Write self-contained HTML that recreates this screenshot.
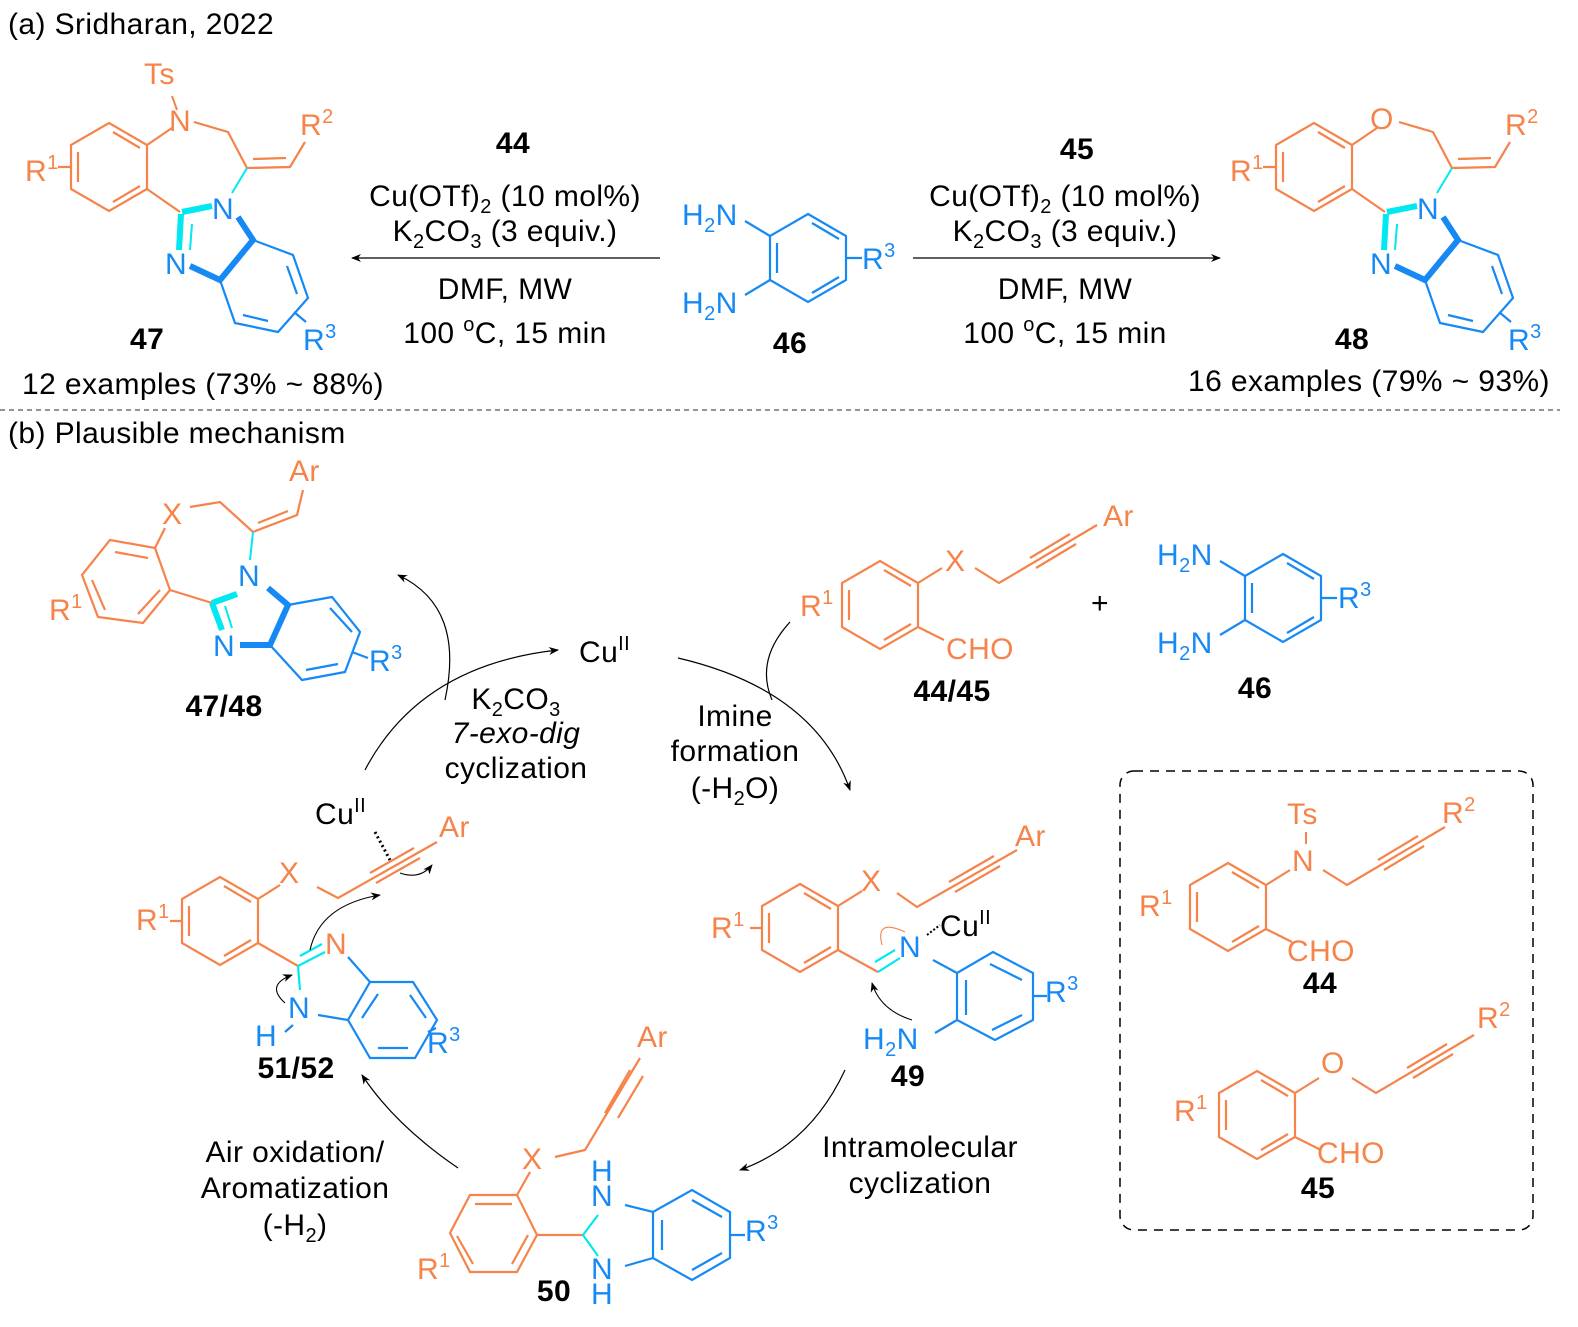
<!DOCTYPE html>
<html><head><meta charset="utf-8"><style>
html,body{margin:0;padding:0;background:#fff}
svg{display:block}
text{font-family:"Liberation Sans",Arial,sans-serif;font-size:30px;letter-spacing:0.4px}
tspan.s{font-size:20px}
.o{fill:#F5834A}.b{fill:#1689F5}.k{fill:#000}.bd{font-weight:bold}
</style></head><body>
<svg width="1578" height="1327" viewBox="0 0 1578 1327" xmlns="http://www.w3.org/2000/svg">
<defs>
<g id="hx" fill="none" stroke-width="2.2">
<path d="M0,-44 L38,-22 L38,22 L0,44 L-38,22 L-38,-22Z"/>
<path d="M4,-35 L31,-19 M31,19 L4,35 M-31,15 L-31,-15"/>
</g>
<marker id="ah" markerWidth="10" markerHeight="8" refX="9" refY="4" orient="auto" markerUnits="userSpaceOnUse"><path d="M0,0 L10,4 L0,8 L3,4Z" fill="#000"/></marker>
<g id="alk">
<use href="#hx" stroke="#F5834A"/>
<path d="M38,-22 L62,-37 M95,-37 L119,-22 L217,-80 M150,-47 L190,-71 M156,-37 L196,-61 M38,22 L64,35" stroke="#F5834A" stroke-width="2.2" fill="none"/>
</g>
<g id="c47">
<use href="#hx" x="109" y="167" stroke="#F5834A"/>
<path d="M147,145 L172,128 M194,122 L228,132 L247,168 L290,167 L305,142 M253,159 L286,158 M147,189 L180,212 M71,167 L58,167" stroke="#F5834A" stroke-width="2.2" fill="none"/>
<path d="M247,168 L232,193" stroke="#00E8F0" stroke-width="2"/>
<path d="M182,212 L212,206" stroke="#00E8F0" stroke-width="6"/>
<path d="M181,214 L179,250" stroke="#00E8F0" stroke-width="6"/>
<path d="M192,224 L190,250" stroke="#00E8F0" stroke-width="2"/>
<path d="M190,266 L220,280 L253,240 L238,217" stroke="#1689F5" stroke-width="6" fill="none"/>
<path d="M253,240 L293,255 L308,298 L278,332 L235,323 L220,280 M287,266 L297,294 M268,321 L243,315 M294,312 L306,322" stroke="#1689F5" stroke-width="2.2" fill="none"/>
<text x="212" y="219" class="b">N</text>
<text x="165" y="274" class="b">N</text>
<text x="25" y="181" class="o">R<tspan class="s" dy="-12">1</tspan></text>
<text x="300" y="135" class="o">R<tspan class="s" dy="-12">2</tspan></text>
<text x="303" y="350" class="b">R<tspan class="s" dy="-12">3</tspan></text>
</g>
</defs>

<text x="8" y="34" class="k">(a) Sridharan, 2022</text>

<use href="#c47"/>
<text x="169" y="131" class="o">N</text>
<text x="144" y="84" class="o">Ts</text>
<path d="M172,96 L177,110" stroke="#F5834A" stroke-width="2"/>
<text x="130" y="349" class="k bd">47</text>
<text x="22" y="394" class="k">12 examples (73% ~ 88%)</text>

<text x="513" y="153" class="k bd" text-anchor="middle">44</text>
<text x="505" y="206" class="k" text-anchor="middle">Cu(OTf)<tspan class="s" dy="7">2</tspan><tspan dy="-7"> (10 mol%)</tspan></text>
<text x="505" y="241" class="k" text-anchor="middle">K<tspan class="s" dy="7">2</tspan><tspan dy="-7">CO</tspan><tspan class="s" dy="7">3</tspan><tspan dy="-7"> (3 equiv.)</tspan></text>
<text x="505" y="299" class="k" text-anchor="middle">DMF, MW</text>
<text x="505" y="343" class="k" text-anchor="middle">100 <tspan class="s" dy="-12">o</tspan><tspan dy="12">C, 15 min</tspan></text>
<path d="M660,258 L352,258" stroke="#000" stroke-width="1.3" marker-end="url(#ah)"/>

<use href="#hx" x="808" y="258" stroke="#1689F5"/>
<path d="M770,236 L745,221 M770,280 L745,295 M846,258 L862,258" stroke="#1689F5" stroke-width="2.2"/>
<text x="682" y="225" class="b">H<tspan class="s" dy="7">2</tspan><tspan dy="-7">N</tspan></text>
<text x="682" y="313" class="b">H<tspan class="s" dy="7">2</tspan><tspan dy="-7">N</tspan></text>
<text x="862" y="269" class="b">R<tspan class="s" dy="-12">3</tspan></text>
<text x="790" y="353" class="k bd" text-anchor="middle">46</text>

<text x="1077" y="159" class="k bd" text-anchor="middle">45</text>
<text x="1065" y="206" class="k" text-anchor="middle">Cu(OTf)<tspan class="s" dy="7">2</tspan><tspan dy="-7"> (10 mol%)</tspan></text>
<text x="1065" y="241" class="k" text-anchor="middle">K<tspan class="s" dy="7">2</tspan><tspan dy="-7">CO</tspan><tspan class="s" dy="7">3</tspan><tspan dy="-7"> (3 equiv.)</tspan></text>
<text x="1065" y="299" class="k" text-anchor="middle">DMF, MW</text>
<text x="1065" y="343" class="k" text-anchor="middle">100 <tspan class="s" dy="-12">o</tspan><tspan dy="12">C, 15 min</tspan></text>
<path d="M913,258 L1220,258" stroke="#000" stroke-width="1.3" marker-end="url(#ah)"/>

<g transform="translate(1205,0)"><use href="#c47"/></g>
<text x="1370" y="129" class="o">O</text>
<text x="1352" y="349" class="k bd" text-anchor="middle">48</text>
<text x="1188" y="391" class="k">16 examples (79% ~ 93%)</text>

<path d="M0,410 L1560,410" stroke="#555" stroke-width="1.3" stroke-dasharray="5,4"/>
<text x="8" y="443" class="k">(b) Plausible mechanism</text>

<g fill="none" stroke-width="2.2">
<path d="M110,540 L155,548 L170,590 L143,623 L98,617 L82,575Z M115,552 L148,558 M160,590 L138,614 M92,580 L105,610" stroke="#F5834A"/>
<path d="M155,548 L165,528 M190,507 L220,502 L253,532 L297,515 L303,490 M258,523 L288,511 M170,590 L212,603" stroke="#F5834A"/>
<path d="M253,532 L250,560" stroke="#00E8F0" stroke-width="2"/>
<path d="M212,603 L237,594 M212,603 L222,630" stroke="#00E8F0" stroke-width="6"/>
<path d="M225,606 L232,628" stroke="#00E8F0" stroke-width="2"/>
<path d="M240,645 L270,645 L288,605 L268,588" stroke="#1689F5" stroke-width="6"/>
<path d="M288,605 L332,597 L360,632 L345,672 L302,680 L270,645 M330,608 L352,632 M338,664 L306,670 M352,652 L368,658" stroke="#1689F5"/>
</g>
<text x="162" y="524" class="o">X</text>
<text x="289" y="481" class="o">Ar</text>
<text x="238" y="586" class="b">N</text>
<text x="213" y="656" class="b">N</text>
<text x="49" y="620" class="o">R<tspan class="s" dy="-12">1</tspan></text>
<text x="369" y="671" class="b">R<tspan class="s" dy="-12">3</tspan></text>
<text x="224" y="716" class="k bd" text-anchor="middle">47/48</text>

<use href="#alk" transform="translate(880,605)"/>
<text x="945" y="571" class="o">X</text>
<text x="1103" y="526" class="o">Ar</text>
<text x="946" y="659" class="o">CHO</text>
<text x="800" y="616" class="o">R<tspan class="s" dy="-12">1</tspan></text>
<text x="952" y="701" class="k bd" text-anchor="middle">44/45</text>
<text x="1100" y="613" class="k" text-anchor="middle">+</text>

<use href="#hx" x="1283" y="598" stroke="#1689F5"/>
<path d="M1245,576 L1220,561 M1245,620 L1220,635 M1321,598 L1337,598" stroke="#1689F5" stroke-width="2.2"/>
<text x="1157" y="565" class="b">H<tspan class="s" dy="7">2</tspan><tspan dy="-7">N</tspan></text>
<text x="1157" y="653" class="b">H<tspan class="s" dy="7">2</tspan><tspan dy="-7">N</tspan></text>
<text x="1338" y="608" class="b">R<tspan class="s" dy="-12">3</tspan></text>
<text x="1255" y="698" class="k bd" text-anchor="middle">46</text>

<text x="579" y="662" class="k">Cu<tspan class="s" dy="-12">II</tspan></text>
<g fill="none" stroke="#000" stroke-width="1.2">
<path d="M365,770 Q420,665 558,650" marker-end="url(#ah)"/>
<path d="M445,700 C458,640 445,597 398,575" marker-end="url(#ah)"/>
<path d="M678,658 Q815,690 850,790" marker-end="url(#ah)"/>
<path d="M790,622 Q755,660 772,700"/>
<path d="M845,1070 Q810,1145 740,1170" marker-end="url(#ah)"/>
<path d="M458,1168 Q395,1125 362,1075" marker-end="url(#ah)"/>
</g>
<text x="516" y="709" class="k" text-anchor="middle">K<tspan class="s" dy="7">2</tspan><tspan dy="-7">CO</tspan><tspan class="s" dy="7">3</tspan></text>
<text x="516" y="743" class="k" text-anchor="middle" font-style="italic">7-exo-dig</text>
<text x="516" y="778" class="k" text-anchor="middle">cyclization</text>
<text x="735" y="726" class="k" text-anchor="middle">Imine</text>
<text x="735" y="761" class="k" text-anchor="middle">formation</text>
<text x="735" y="798" class="k" text-anchor="middle">(-H<tspan class="s" dy="7">2</tspan><tspan dy="-7">O)</tspan></text>
<text x="920" y="1157" class="k" text-anchor="middle">Intramolecular</text>
<text x="920" y="1193" class="k" text-anchor="middle">cyclization</text>
<text x="295" y="1162" class="k" text-anchor="middle">Air oxidation/</text>
<text x="295" y="1198" class="k" text-anchor="middle">Aromatization</text>
<text x="295" y="1235" class="k" text-anchor="middle">(-H<tspan class="s" dy="7">2</tspan><tspan dy="-7">)</tspan></text>

<use href="#hx" x="800" y="928" stroke="#F5834A"/>
<g fill="none" stroke-width="2.2">
<path d="M838,906 L862,891 M897,893 L917,907 L1017,850 M949,882 L994,856 M955,892 L1000,866 M838,950 L878,972 M762,928 L750,928" stroke="#F5834A"/>
<path d="M878,972 L900,958 M875,962 L895,950" stroke="#00E8F0"/>
<path d="M933,960 L957,973 M957,973 L993,952 L1033,973 L1033,1020 L995,1040 L957,1020Z M957,1020 L935,1033 M966,980 L966,1015 M990,964 L1022,980 M1022,1015 L992,1030 M1033,996 L1047,996" stroke="#1689F5"/>
<path d="M912,1020 Q880,1010 872,983" stroke="#000" stroke-width="1.1" marker-end="url(#ah)"/>
<path d="M882,945 Q875,918 905,932" stroke="#F5834A" stroke-width="1.1"/>
<path d="M927,935 L940,925" stroke="#000" stroke-width="2" stroke-dasharray="2,2"/>
</g>
<text x="899" y="957" class="b">N</text>
<text x="940" y="936" class="k">Cu<tspan class="s" dy="-12">II</tspan></text>
<text x="861" y="891" class="o">X</text>
<text x="1015" y="846" class="o">Ar</text>
<text x="711" y="938" class="o">R<tspan class="s" dy="-12">1</tspan></text>
<text x="1045" y="1002" class="b">R<tspan class="s" dy="-12">3</tspan></text>
<text x="863" y="1049" class="b">H<tspan class="s" dy="7">2</tspan><tspan dy="-7">N</tspan></text>
<text x="908" y="1086" class="k bd" text-anchor="middle">49</text>

<use href="#hx" x="220" y="921" stroke="#F5834A"/>
<g fill="none" stroke-width="2.2">
<path d="M258,899 L280,885 M317,887 L338,898 L437,842 M370,873 L414,848 M376,883 L420,858 M258,943 L298,966 M182,921 L170,921" stroke="#F5834A"/>
<path d="M298,966 L325,952 M300,956 L322,944 M298,966 L300,990" stroke="#00E8F0"/>
<path d="M348,957 L370,982 L413,982 L437,1020 L415,1058 L370,1058 L348,1020 L318,1015 M370,982 L348,1020 M378,994 L362,1018 M410,995 L426,1018 M408,1048 L378,1048 M436,1028 L428,1032" stroke="#1689F5"/>
<path d="M293,1025 L285,1032" stroke="#1689F5"/>
<path d="M375,832 L390,860" stroke="#000" stroke-width="3" stroke-dasharray="2,3"/>
<path d="M310,950 Q320,905 380,895" stroke="#000" stroke-width="1.1" marker-end="url(#ah)"/>
<path d="M285,1003 Q265,985 292,975" stroke="#000" stroke-width="1.1" marker-end="url(#ah)"/>
<path d="M400,873 Q420,880 432,865" stroke="#000" stroke-width="1.1" marker-end="url(#ah)"/>
</g>
<text x="279" y="883" class="o">X</text>
<text x="439" y="837" class="o">Ar</text>
<text x="315" y="824" class="k">Cu<tspan class="s" dy="-12">II</tspan></text>
<text x="325" y="954" class="o">N</text>
<text x="288" y="1018" class="b">N</text>
<text x="255" y="1046" class="b">H</text>
<text x="136" y="930" class="o">R<tspan class="s" dy="-12">1</tspan></text>
<text x="427" y="1053" class="b">R<tspan class="s" dy="-12">3</tspan></text>
<text x="296" y="1078" class="k bd" text-anchor="middle">51/52</text>

<g fill="none" stroke-width="2.2">
<path d="M517,1195 L537,1235 L517,1272 L470,1272 L450,1233 L470,1195Z M475,1204 L512,1204 M528,1235 L512,1264 M457,1236 L473,1264 M517,1195 L530,1172 M555,1157 L585,1150 L640,1058 M605,1113 L630,1070 M618,1118 L643,1076 M537,1235 L583,1235" stroke="#F5834A"/>
<path d="M583,1235 L598,1215 M583,1235 L598,1256" stroke="#00E8F0"/>
<path d="M625,1205 L653,1212 L692,1190 L730,1212 L730,1258 L692,1280 L653,1258 L625,1266 M653,1212 L653,1258 M662,1220 L662,1250 M692,1200 L722,1217 M722,1253 L692,1270 M730,1235 L745,1235" stroke="#1689F5"/>
</g>
<text x="522" y="1169" class="o">X</text>
<text x="637" y="1047" class="o">Ar</text>
<text x="591" y="1181" class="b">H</text>
<text x="591" y="1206" class="b">N</text>
<text x="591" y="1279" class="b">N</text>
<text x="591" y="1304" class="b">H</text>
<text x="417" y="1279" class="o">R<tspan class="s" dy="-12">1</tspan></text>
<text x="745" y="1241" class="b">R<tspan class="s" dy="-12">3</tspan></text>
<text x="554" y="1301" class="k bd" text-anchor="middle">50</text>

<rect x="1120" y="771" width="413" height="459" rx="14" fill="none" stroke="#000" stroke-width="1.5" stroke-dasharray="9,7"/>
<use href="#alk" transform="translate(1228,907)"/>
<text x="1292" y="871" class="o">N</text>
<text x="1287" y="824" class="o">Ts</text>
<path d="M1306,832 L1306,844" stroke="#F5834A" stroke-width="2"/>
<text x="1442" y="823" class="o">R<tspan class="s" dy="-12">2</tspan></text>
<text x="1287" y="961" class="o">CHO</text>
<text x="1139" y="916" class="o">R<tspan class="s" dy="-12">1</tspan></text>
<text x="1320" y="993" class="k bd" text-anchor="middle">44</text>

<use href="#alk" transform="translate(1257,1115)"/>
<text x="1321" y="1073" class="o">O</text>
<text x="1477" y="1028" class="o">R<tspan class="s" dy="-12">2</tspan></text>
<text x="1317" y="1163" class="o">CHO</text>
<text x="1174" y="1121" class="o">R<tspan class="s" dy="-12">1</tspan></text>
<text x="1318" y="1198" class="k bd" text-anchor="middle">45</text>
</svg>
</body></html>
